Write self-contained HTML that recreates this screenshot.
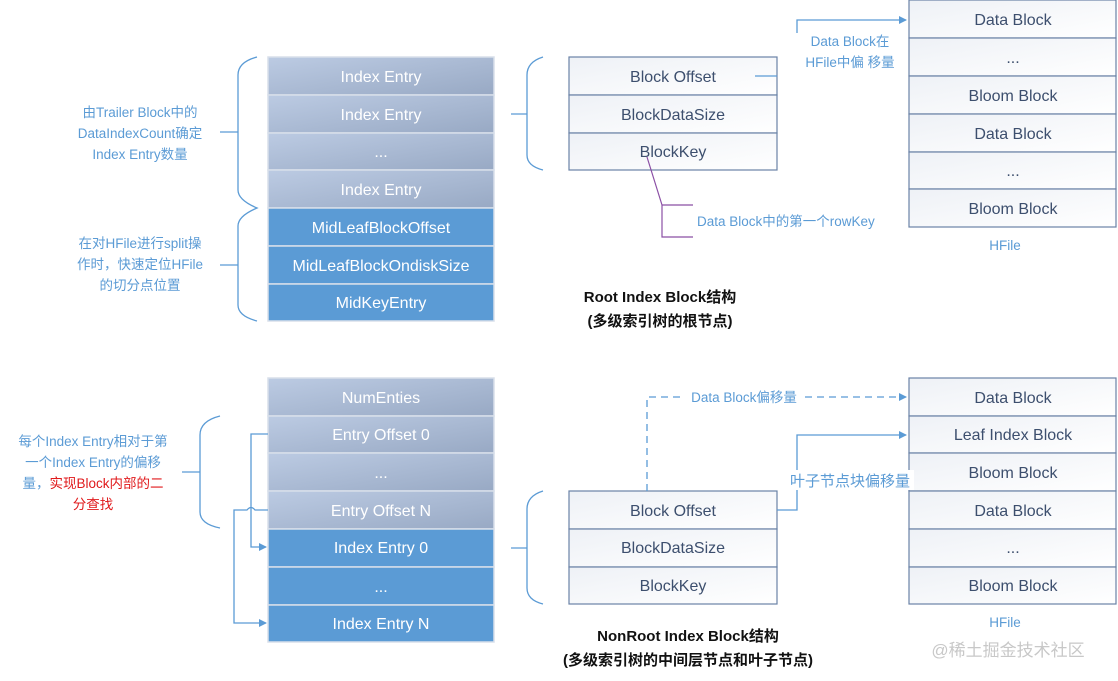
<!DOCTYPE html>
<html><head><meta charset="utf-8"><style>
html,body{margin:0;padding:0;background:#fff;}
svg{display:block;}
text{font-family:"Liberation Sans","Noto Sans CJK SC",sans-serif;}
</style></head><body>
<svg width="1118" height="681" viewBox="0 0 1118 681" xmlns="http://www.w3.org/2000/svg">
<defs>
<linearGradient id="g" x1="0" y1="0" x2="1" y2="1">
<stop offset="0" stop-color="#bccbe3"/><stop offset="1" stop-color="#98a9c4"/></linearGradient>
<linearGradient id="w" x1="0" y1="0" x2="1" y2="1">
<stop offset="0" stop-color="#eef1f6"/><stop offset="1" stop-color="#ffffff"/></linearGradient>
<marker id="a" markerWidth="8" markerHeight="8" refX="7" refY="4" orient="auto" markerUnits="userSpaceOnUse">
<path d="M0,0 L8,4 L0,8 z" fill="#5b9bd5"/></marker>
</defs>

<g font-size="16" fill="#fff" text-anchor="middle">
<g stroke="#d8dfea" stroke-width="1.5">
<rect x="268" y="57" width="226" height="38" fill="url(#g)"/>
<rect x="268" y="95" width="226" height="38" fill="url(#g)"/>
<rect x="268" y="133" width="226" height="37" fill="url(#g)"/>
<rect x="268" y="170" width="226" height="38" fill="url(#g)"/>
<rect x="268" y="208" width="226" height="38" fill="#5b9bd5"/>
<rect x="268" y="246" width="226" height="38" fill="#5b9bd5"/>
<rect x="268" y="284" width="226" height="37" fill="#5b9bd5"/>
</g>
<text x="381" y="82">Index Entry</text>
<text x="381" y="120">Index Entry</text>
<text x="381" y="157">...</text>
<text x="381" y="195">Index Entry</text>
<text x="381" y="233">MidLeafBlockOffset</text>
<text x="381" y="271">MidLeafBlockOndiskSize</text>
<text x="381" y="308">MidKeyEntry</text>

<g stroke="#d8dfea" stroke-width="1.5">
<rect x="268" y="378" width="226" height="38" fill="url(#g)"/>
<rect x="268" y="416" width="226" height="37" fill="url(#g)"/>
<rect x="268" y="453" width="226" height="38" fill="url(#g)"/>
<rect x="268" y="491" width="226" height="38" fill="url(#g)"/>
<rect x="268" y="529" width="226" height="38" fill="#5b9bd5"/>
<rect x="268" y="567" width="226" height="38" fill="#5b9bd5"/>
<rect x="268" y="605" width="226" height="37" fill="#5b9bd5"/>
</g>
<text x="381" y="403">NumEnties</text>
<text x="381" y="440">Entry Offset 0</text>
<text x="381" y="478">...</text>
<text x="381" y="516">Entry Offset N</text>
<text x="381" y="553">Index Entry 0</text>
<text x="381" y="592">...</text>
<text x="381" y="629">Index Entry N</text>
</g>

<g stroke="#6a82a6" stroke-width="1.2" fill="url(#w)">
<rect x="569" y="57" width="208" height="38"/><rect x="569" y="95" width="208" height="38"/><rect x="569" y="133" width="208" height="37"/>
<rect x="569" y="491" width="208" height="38"/><rect x="569" y="529" width="208" height="38"/><rect x="569" y="567" width="208" height="37"/>
<rect x="909" y="0" width="207" height="38"/><rect x="909" y="38" width="207" height="38"/><rect x="909" y="76" width="207" height="38"/>
<rect x="909" y="114" width="207" height="38"/><rect x="909" y="152" width="207" height="37"/><rect x="909" y="189" width="207" height="38"/>
<rect x="909" y="378" width="207" height="38"/><rect x="909" y="416" width="207" height="37"/><rect x="909" y="453" width="207" height="38"/>
<rect x="909" y="491" width="207" height="38"/><rect x="909" y="529" width="207" height="38"/><rect x="909" y="567" width="207" height="37"/>
</g>
<g font-size="16" fill="#3d4f6e" text-anchor="middle">
<text x="673" y="82">Block Offset</text><text x="673" y="120">BlockDataSize</text><text x="673" y="157">BlockKey</text>
<text x="673" y="516">Block Offset</text><text x="673" y="553">BlockDataSize</text><text x="673" y="591">BlockKey</text>
<text x="1013" y="25">Data Block</text><text x="1013" y="63">...</text><text x="1013" y="101">Bloom Block</text>
<text x="1013" y="139">Data Block</text><text x="1013" y="176">...</text><text x="1013" y="214">Bloom Block</text>
<text x="1013" y="403">Data Block</text><text x="1013" y="440">Leaf Index Block</text><text x="1013" y="478">Bloom Block</text>
<text x="1013" y="516">Data Block</text><text x="1013" y="553">...</text><text x="1013" y="591">Bloom Block</text>
</g>

<g fill="none" stroke="#5b9bd5" stroke-width="1.3">
<path d="M257,57 Q238,62 238,75 L238,190 Q238,200 257,208 Q238,216 238,226 L238,305 Q238,316 257,321"/>
<path d="M220,132 L238,132 M220,265 L238,265"/>
<path d="M543,57 Q527,62 527,75 L527,155 Q527,166 543,170 M511,114 L527,114"/>
<path d="M543,491 Q527,496 527,509 L527,588 Q527,600 543,604 M511,548 L527,548"/>
<path d="M220,416 Q200,421 200,435 L200,512 Q200,524 220,528 M182,472 L200,472"/>
<path d="M268,434 L251,434 L251,547 L266,547" marker-end="url(#a)"/>
<path d="M268,510 L255,510 Q251,505 247,510 L234,510 L234,623 L266,623" marker-end="url(#a)"/>
<path d="M777,76 L755,76"/>
<path d="M797,33 L797,20 L906,20" marker-end="url(#a)"/>
<path d="M647,491 L647,397 L906,397" stroke-dasharray="7,5" marker-end="url(#a)"/>
<path d="M777,510 L797,510 L797,435 L906,435" marker-end="url(#a)"/>
</g>
<path d="M647,157 L662,205 M693,205 L662,205 L662,237 L693,237" fill="none" stroke="#8b4fa5" stroke-width="1.2"/>

<g font-size="13.5" fill="#5b9bd5" text-anchor="middle">
<rect x="684" y="388" width="119" height="18" fill="#fff"/>
<text x="744" y="402">Data Block偏移量</text>
<rect x="786" y="470" width="128" height="20" fill="#fff"/>
<text x="850" y="486" font-size="15">叶子节点块偏移量</text>
<text x="850" y="46">Data Block在</text>
<text x="850" y="67">HFile中偏 移量</text>
<text x="697" y="226" text-anchor="start">Data Block中的第一个rowKey</text>
<text x="1005" y="250">HFile</text>
<text x="1005" y="627">HFile</text>
<text x="140" y="117">由Trailer Block中的</text>
<text x="140" y="138">DataIndexCount确定</text>
<text x="140" y="159">Index Entry数量</text>
<text x="140" y="248">在对HFile进行split操</text>
<text x="140" y="269">作时，快速定位HFile</text>
<text x="140" y="290">的切分点位置</text>
<text x="93" y="446">每个Index Entry相对于第</text>
<text x="93" y="467">一个Index Entry的偏移</text>
<text x="93" y="488">量，<tspan fill="#e0191b">实现Block内部的二</tspan></text>
<text x="93" y="509" fill="#e0191b">分查找</text>
</g>
<g font-size="15" font-weight="bold" fill="#111" text-anchor="middle">
<text x="660" y="302">Root Index Block结构</text>
<text x="660" y="326">(多级索引树的根节点)</text>
<text x="688" y="641">NonRoot Index Block结构</text>
<text x="688" y="665">(多级索引树的中间层节点和叶子节点)</text>
</g>
<text x="1008" y="656" font-size="17" fill="#c8c8c8" text-anchor="middle">@稀土掘金技术社区</text>
</svg>
</body></html>
